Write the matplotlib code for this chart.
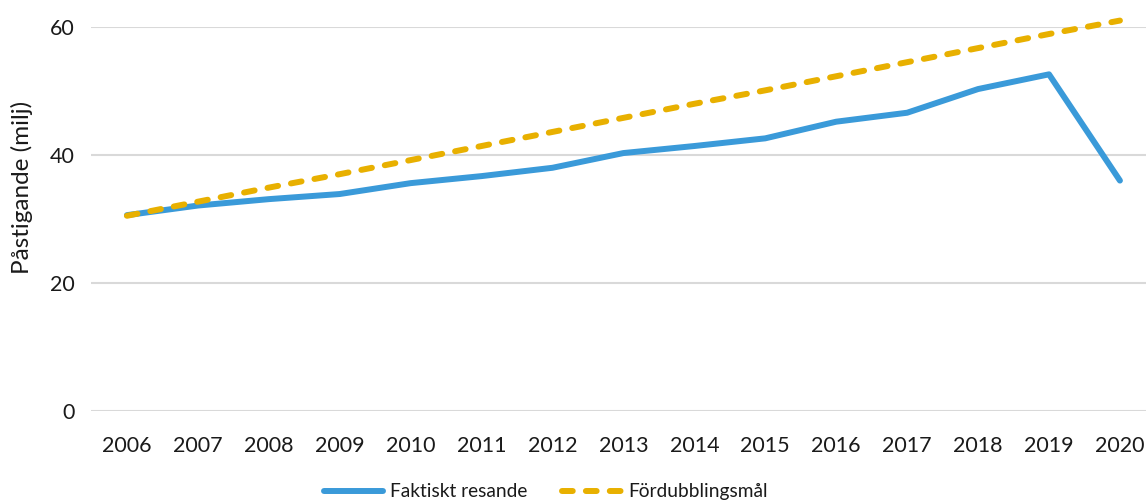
"""Påstigande per år: faktiskt resande mot fördubblingsmål."""

import matplotlib

matplotlib.use("Agg")
import matplotlib.pyplot as plt
from matplotlib.lines import Line2D

YEARS = [str(y) for y in range(2006, 2021)]
ACTUAL = [30.6, 32.1, 33.1, 33.9, 35.6, 36.7, 38.0, 40.3, 41.4, 42.6, 45.2, 46.6, 50.3, 52.6, 36.0]
TARGET = [30.5, 32.7, 34.9, 37.0, 39.2, 41.4, 43.6, 45.8, 48.0, 50.1, 52.3, 54.5, 56.7, 58.9, 61.0]
Y_TICKS = [0, 20, 40, 60]

BLUE = "#3A9AD9"
GOLD = "#E8B000"
GRID = "#D9D9D9"
TEXT = "#1A1A1A"
DASH = (0, (1.8, 2.2))

plt.rcParams["font.family"] = ["Lato", "DejaVu Sans"]

fig = plt.figure(figsize=(11.46, 5.04), dpi=100)
ax = fig.add_axes([0.0798, 0.1845, 0.9284, 0.762])

x = list(range(len(YEARS)))
ax.plot(x, ACTUAL, color=BLUE, lw=4.3, solid_capstyle="round", solid_joinstyle="round",
        zorder=3, clip_on=False)
ax.plot(x, TARGET, color=GOLD, lw=4.3, linestyle=DASH, dash_capstyle="round",
        zorder=4, clip_on=False)

ax.set_xlim(-0.5, len(YEARS) - 0.5)
ax.set_ylim(0, 60)
ax.set_xticks(x)
ax.set_xticklabels(YEARS)
ax.set_yticks(Y_TICKS)
ax.tick_params(length=0, labelsize=15.5, colors=TEXT)
ax.tick_params(axis="x", pad=18)
ax.tick_params(axis="y", pad=12)
ax.grid(axis="y", color=GRID, lw=1.5)
ax.set_axisbelow(True)
for spine in ax.spines.values():
    spine.set_visible(False)

fig.text(0.019, 0.629, "Påstigande (milj)", rotation=90, ha="center", va="center",
         fontsize=17.5, color=TEXT)

handles = [
    Line2D([], [], color=BLUE, lw=4.3, solid_capstyle="round"),
    Line2D([], [], color=GOLD, lw=4.3, linestyle=DASH, dash_capstyle="round"),
]
fig.legend(handles, ["Faktiskt resande", "Fördubblingsmål"], loc="center",
           bbox_to_anchor=(0.476, 0.024), ncol=2, frameon=False, fontsize=13.8,
           handlelength=3.1, handletextpad=0.35, columnspacing=1.8,
           labelcolor=TEXT, borderpad=0)

fig.savefig("out.png", dpi=100)
